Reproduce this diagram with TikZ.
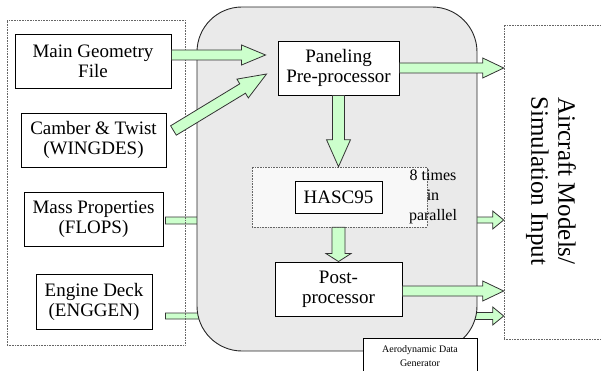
\documentclass[tikz,border=0pt]{standalone}
\usepackage{fontspec}
\setmainfont{Liberation Serif}
\usetikzlibrary{calc}
\pgfdeclarelayer{back}
\pgfsetlayers{back,main}
\definecolor{arrowgreen}{RGB}{204,255,204}
\definecolor{genfill}{RGB}{234,234,234}
\definecolor{hascfill}{RGB}{248,248,248}
\tikzset{
  box/.style={draw=black, line width=0.9pt, fill=white, align=center, inner sep=0pt,
    font=\fontsize{19}{20}\selectfont},
  dotbox/.style={draw=black!60, densely dotted, line width=0.6pt, inner sep=0pt},
  arrowsty/.style={draw=black!80, line width=0.8pt, fill=arrowgreen, line join=miter},
}
% #1 start, #2 tip, #3 shaft half width, #4 head half width, #5 head length
\newcommand\blockarr[5]{%
  \coordinate (bh) at ($(#2)!#5!(#1)$);
  \draw[arrowsty] ($(#1)!#3!90:(#2)$) -- ($(bh)!#3!90:(#2)$) -- ($(bh)!#4!90:(#2)$)
    -- (#2) -- ($(bh)!#4!-90:(#2)$) -- ($(bh)!#3!-90:(#2)$) -- ($(#1)!#3!-90:(#2)$) -- cycle;}
\begin{document}
\begin{tikzpicture}[x=1pt,y=-1pt]
\useasboundingbox (0,0) rectangle (601,371);
\clip (0,0) rectangle (601,371);

% outer frames
\node[dotbox, minimum width=108pt, minimum height=314pt] (outbox) at (558,182) {};
\node[draw=black!85, line width=0.9pt, fill=genfill, rounded corners=45pt,
      minimum width=280pt, minimum height=344pt, inner sep=0pt] (gen) at (337,179) {};
\node[dotbox, minimum width=178pt, minimum height=325pt] (inputs) at (96,182.5) {};

% input boxes
\node[box, minimum width=156pt, minimum height=54pt] (main) at (93,61) {Main Geometry\\File};
\node[box, minimum width=145pt, minimum height=54pt] (camber) at (93.5,140) {Camber \& Twist\\(WINGDES)};
\node[box, minimum width=139pt, minimum height=54pt] (mass) at (93.5,219) {Mass Properties\\(FLOPS)};
\node[box, minimum width=116pt, minimum height=55pt] (engine) at (94,301.5) {Engine Deck\\(ENGGEN)};

% generator contents
\node[dotbox, fill=hascfill, minimum width=175pt, minimum height=60pt] (par) at (339.5,197) {};
\node[box, minimum width=87pt, minimum height=32pt] (hasc) at (338.5,197) {HASC95};
\node[box, minimum width=121pt, minimum height=54pt] (panel) at (338.5,68) {Paneling\\Pre-processor};
\node[box, minimum width=127pt, minimum height=54pt] (post) at (338.5,289) {Post-\\processor};
\node[box, minimum width=114pt, minimum height=40pt] (aero) at (420,358) {};
\node[font=\fontsize{10}{14}\selectfont, align=center, inner sep=0pt] (aerotxt) at (420,356) {Aerodynamic Data\\Generator};
\node[font=\fontsize{16}{20}\selectfont, align=center, inner sep=0pt] (times) at (433,197) {8 times\\in\\parallel};
\node[rotate=-90, font=\fontsize{25}{27}\selectfont, align=center, inner sep=0pt] (aircraft) at (551,181) {Aircraft Models/\\Simulation Input};

% arrows behind the generator
\begin{pgfonlayer}{back}
  \coordinate (a7s) at ($(gen.east)+(-3,41)$);
  \coordinate (a7e) at (outbox.west |- a7s);
  \blockarr{a7s}{a7e}{3pt}{9pt}{11pt}
  \coordinate (a8s) at ($(gen.east)+(-10,137)$);
  \coordinate (a8e) at (outbox.west |- a8s);
  \blockarr{a8s}{a8e}{3.5pt}{9pt}{11pt}
  \coordinate (b9s) at ($(mass.east)+(2,1.5)$);
  \coordinate (b9e) at ($(b9s)+(60,0)$);
  \blockarr{b9s}{b9e}{3.5pt}{9pt}{11pt}
  \coordinate (b10s) at ($(engine.east)+(13,14.5)$);
  \coordinate (b10e) at ($(b10s)+(60,0)$);
  \blockarr{b10s}{b10e}{3pt}{9pt}{11pt}
\end{pgfonlayer}

% arrows in front
\coordinate (a1s) at ($(main.east)+(0,-6)$);
\coordinate (a1e) at ($(panel.west)+(-12,-13)$);
\blockarr{a1s}{a1e}{5pt}{10pt}{24pt}
\coordinate (a2s) at ($(camber.east)+(7,-9.5)$);
\coordinate (a2e) at ($(panel.west)+(-11,6)$);
\blockarr{a2s}{a2e}{5.5pt}{11pt}{28pt}
\coordinate (a3e) at (outbox.west |- panel.east);
\blockarr{panel.east}{a3e}{5pt}{10pt}{21pt}
\coordinate (a4e) at (panel.south |- par.north);
\blockarr{panel.south}{a4e}{6pt}{12pt}{27pt}
\coordinate (a5s) at (post.north |- par.south);
\blockarr{a5s}{post.north}{6.5pt}{12.5pt}{8pt}
\coordinate (a6s) at ($(post.east)+(0,2)$);
\coordinate (a6e) at (outbox.west |- a6s);
\blockarr{a6s}{a6e}{5pt}{10pt}{21pt}
\end{tikzpicture}
\end{document}
